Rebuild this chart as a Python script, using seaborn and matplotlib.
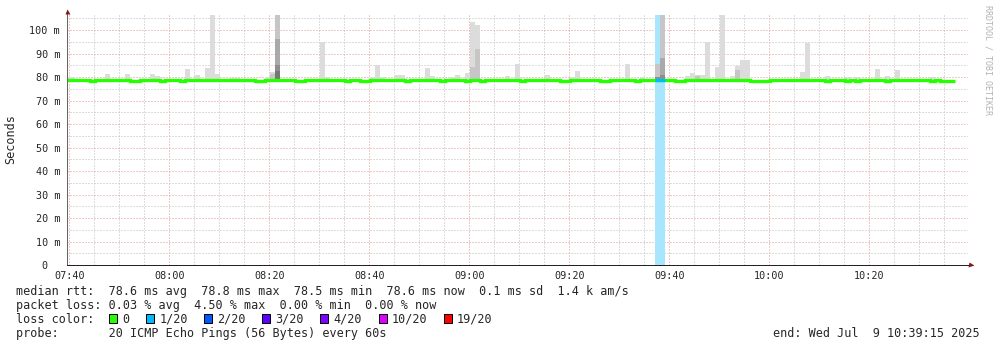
import numpy as np
import pandas as pd
import matplotlib
matplotlib.use("Agg")
import matplotlib.pyplot as plt
import seaborn as sns
from matplotlib.patches import Rectangle
from matplotlib.transforms import ScaledTranslation

# ---------------- data ----------------
# minutes after 07:40 of each 60 s step that is drawn
first_minute, last_minute = -1, 176

median_typical = 78.75           # ms
median_low = 78.32               # ms, steps where the median dips
median_low_minutes = [4, 12, 13, 18, 22, 37, 38, 45, 46, 55, 58, 59, 67, 74, 79, 82,
                      90, 98, 99, 106, 107, 113, 121, 122, 136, 137, 138, 139, 151,
                      155, 157, 163, 172, 174, 175, 176]
loss_minutes = [117, 118]        # 1/20 packet loss
loss_band_top = 106.4

smoke_floor = 78.2
# lightest smoke layer (single outlier pings)
smoke_l1_minutes = [-1, 0, 7, 11, 16, 17, 23, 25, 27, 28, 29, 32, 33, 39, 40, 50, 51,
                    60, 61, 62, 65, 66, 71, 72, 76, 77, 79, 80, 81, 87, 89, 95, 100,
                    101, 111, 114, 123, 124, 125, 126, 127, 129, 130, 132, 133, 134,
                    135, 146, 147, 151, 155, 157, 161, 163, 165, 172]
smoke_l1_top = [80.1, 80.1, 81.4, 81.4, 81.4, 80.5, 83.5, 80.9, 83.9, 106.4, 81.4, 79.8,
                79.8, 80.1, 82.2, 95.0, 80.1, 80.0, 85.2, 80.1, 80.9, 80.9, 83.9, 80.5,
                80.1, 80.9, 81.8, 103.5, 102.2, 80.5, 85.6, 80.9, 80.1, 82.6, 85.6,
                80.1, 80.5, 81.8, 80.9, 80.9, 95.0, 84.3, 106.4, 80.3, 84.7, 87.3,
                87.3, 82.2, 94.6, 80.5, 80.1, 79.9, 83.5, 80.5, 83.0, 80.1]
smoke_l2_minutes = [40, 41, 80, 81, 117, 118, 125, 133]
smoke_l2_top = [81.4, 106.4, 84.3, 92.0, 85.6, 106.4, 80.3, 83.0]
smoke_l3_minutes = [41, 118]
smoke_l3_top = [96.2, 88.0]
smoke_l4_minutes = [41, 117, 118]
smoke_l4_top = [85.2, 80.1, 80.9]
smoke_l5_minutes = [41]
smoke_l5_top = [82.6]

xtick_minutes = [0, 20, 40, 60, 80, 100, 120, 140, 160]
xtick_labels = ["07:40", "08:00", "08:20", "08:40", "09:00", "09:20", "09:40", "10:00", "10:20"]
ytick_values = [0, 10, 20, 30, 40, 50, 60, 70, 80, 90, 100]
ytick_labels = ["0", "10 m", "20 m", "30 m", "40 m", "50 m", "60 m", "70 m", "80 m", "90 m", "100 m"]

legend_line1 = "median rtt:  78.6 ms avg  78.8 ms max  78.5 ms min  78.6 ms now  0.1 ms sd  1.4 k am/s"
legend_line2 = "packet loss: 0.03 % avg  4.50 % max  0.00 % min  0.00 % now"
legend_line3 = "loss color:"
loss_labels = ["0", "1/20", "2/20", "3/20", "4/20", "10/20", "19/20"]
loss_colors = ["#26ff00", "#00b8ff", "#0059ff", "#5e00ff", "#7e00ff", "#dd00ff", "#ff0000"]
legend_line4 = "probe:       20 ICMP Echo Pings (56 Bytes) every 60s"
end_text = "end: Wed Jul  9 10:39:15 2025"
watermark = "RRDTOOL / TOBI OETIKER"
ylabel = "Seconds"

# ---------------- style ----------------
sns.set_style("white")
plt.rcParams['font.family'] = ['DejaVu Sans Mono', 'DejaVu Sans']
plt.rcParams['axes.linewidth'] = 0.72

W, H = 997, 347
fig = plt.figure(figsize=(W / 100, H / 100), dpi=100)
fig.patch.set_facecolor('white')
ax = fig.add_axes([67 / W, 1 - 265 / H, 901 / W, 252 / H])
ax.set_facecolor('white')
ax.set_xlim(-0.46, 179.74)
ax.set_ylim(0, 107.3)

off = 0.14  # bar start offset within a minute

# loss background band
ax.bar(np.array(loss_minutes) + off, loss_band_top, width=1, align='edge',
       color='#a8e6fe', linewidth=0, zorder=1)

# smoke layers
layer_colors = ['#dcdcdc', '#c6c6c6', '#a9a9a9', '#8e8e8e', '#767676']
layers = [(smoke_l1_minutes, smoke_l1_top), (smoke_l2_minutes, smoke_l2_top),
          (smoke_l3_minutes, smoke_l3_top), (smoke_l4_minutes, smoke_l4_top),
          (smoke_l5_minutes, smoke_l5_top)]
for i, (mins, tops) in enumerate(layers):
    mins = np.array(mins, dtype=float)
    tops = np.array(tops, dtype=float)
    ax.bar(mins + off, tops - smoke_floor, bottom=smoke_floor, width=1, align='edge',
           color=layer_colors[i], linewidth=0, zorder=2 + i * 0.1)

# median line
minutes = np.arange(first_minute, last_minute + 1)
med = np.where(np.isin(minutes, median_low_minutes), median_low, median_typical)
df = pd.DataFrame({"x": np.append(minutes + off, last_minute + 1 + off),
                   "y": np.append(med, med[-1])})
sns.lineplot(data=df, x="x", y="y", drawstyle='steps-post', estimator=None,
             color='#26ff00', linewidth=2.4, ax=ax, zorder=5)
for line in ax.get_lines():
    line.set_solid_capstyle('butt')
    line.set_solid_joinstyle('miter')
for k in loss_minutes:
    v = med[k - first_minute]
    ax.plot([k + off, k + off + 1], [v, v], color='#00b8ff', lw=2.4,
            solid_capstyle='butt', zorder=6)

# grid / ticks
ax.set_xticks(xtick_minutes, xtick_labels)
ax.set_xticks(np.arange(5, 180, 5), minor=True)
ax.set_yticks(ytick_values, ytick_labels)
ax.set_yticks(np.arange(5, 107, 10), minor=True)
ax.grid(which='major', color='#e69494', lw=0.72, ls=(0, (1, 2)))
ax.grid(which='minor', color='#bdbdbd', lw=0.72, ls=(0, (1, 2)))
ax.set_axisbelow(True)
ax.tick_params(which='both', length=0)
ax.tick_params(axis='x', pad=4, labelsize=7.3)
ax.tick_params(axis='y', pad=5, labelsize=7.3)
ax.set_xlabel("")
ax.set_ylabel("")
lbl0 = ax.get_yticklabels()[0]
lbl0.set_transform(lbl0.get_transform() + ScaledTranslation(-12.2 / 100, 0, fig.dpi_scale_trans))

for s in ['top', 'right']:
    ax.spines[s].set_visible(False)
ax.spines['left'].set_color('#666666')
ax.spines['bottom'].set_color('#222222')
ax.spines['left'].set_zorder(7)
ax.spines['bottom'].set_zorder(7)

# arrows
ax.plot([0], [1.006], marker='^', ms=3.6, color='#801a1a', mec='none',
        transform=ax.transAxes, clip_on=False, zorder=8)
ax.plot([1.0028], [0], marker='>', ms=3.6, color='#801a1a', mec='none',
        transform=ax.transAxes, clip_on=False, zorder=8)

# y label
fig.text(11 / W, 1 - 139 / H, ylabel, rotation=90, ha='center', va='center', fontsize=8.5)

# watermark
fig.text(988 / W, 1 - 60 / H, watermark, rotation=270, ha='center', va='center',
         fontsize=6, color='#b3b3b3')

# legend text
fs = 8.5
fig.text(15.5 / W, 1 - 295 / H, legend_line1, fontsize=fs, va='baseline')
fig.text(15.5 / W, 1 - 309 / H, legend_line2, fontsize=fs, va='baseline')
fig.text(15.5 / W, 1 - 323 / H, legend_line3, fontsize=fs, va='baseline')
fig.text(15.5 / W, 1 - 337 / H, legend_line4, fontsize=fs, va='baseline')
fig.text(980 / W, 1 - 337 / H, end_text, fontsize=fs, va='baseline', ha='right')

box_x = [108.5, 145.5, 203.5, 261.5, 319.5, 378.5, 443.5]
text_x = [122.5, 159.5, 217.5, 275.5, 333.5, 391.5, 456.5]
for bx, tx, lab, col in zip(box_x, text_x, loss_labels, loss_colors):
    fig.add_artist(Rectangle((bx / W, 1 - 323 / H), 8 / W, 9 / H, transform=fig.transFigure,
                             facecolor=col, edgecolor='black', lw=0.72))
    fig.text(tx / W, 1 - 323 / H, lab, fontsize=fs, va='baseline')

fig.savefig("out.png", dpi=100, facecolor='white')
